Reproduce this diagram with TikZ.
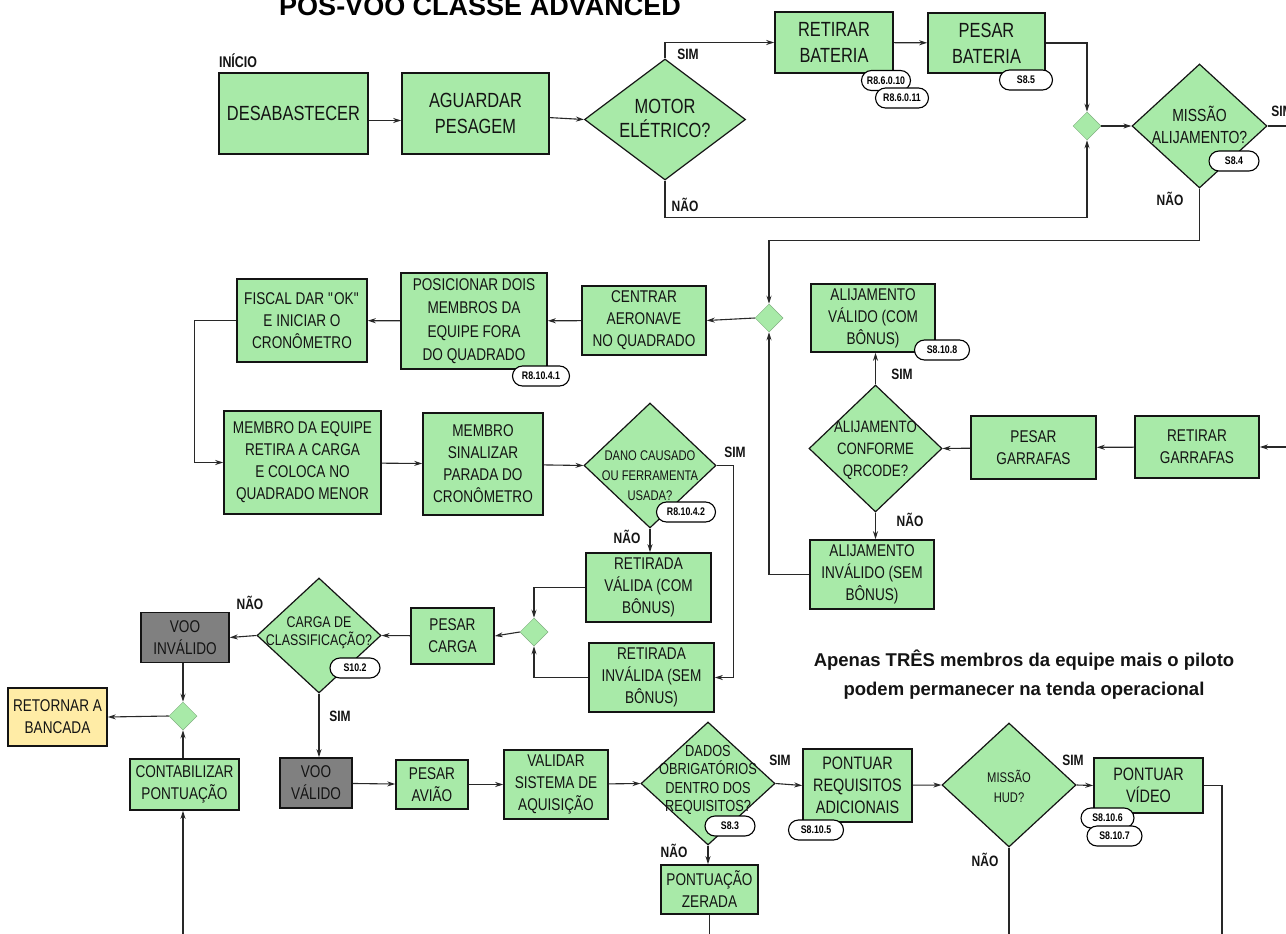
\documentclass[tikz,border=0pt]{standalone}
\usepackage{fontspec}
\setmainfont[FakeStretch=0.8]{Liberation Sans}
\newfontfamily\widefont{Liberation Sans}
\usetikzlibrary{shapes.geometric,shapes.misc,arrows.meta}
\definecolor{boxgreen}{RGB}{168,234,168}
\definecolor{boxgray}{RGB}{128,128,128}
\definecolor{boxyellow}{RGB}{255,236,166}
\definecolor{linec}{RGB}{40,40,40}
\definecolor{txt}{RGB}{20,20,20}
\tikzset{
  box/.style={draw=txt, fill=boxgreen, line width=1.6pt, align=center, inner sep=0pt, text=txt, font=\fontsize{17}{22}\selectfont},
  bigbox/.style={box, font=\fontsize{20.5}{26}\selectfont},
  graybox/.style={box, fill=boxgray},
  yellowbox/.style={box, fill=boxyellow},
  dia/.style={diamond, draw=txt, fill=boxgreen, line width=1.2pt, inner sep=0pt},
  dtxt/.style={align=center, inner sep=0pt, text=txt, font=\fontsize{14}{20}\selectfont},
  merge/.style={diamond, fill=boxgreen, draw=boxgreen!75!black, line width=0.5pt, minimum width=28pt, minimum height=28pt, inner sep=0pt},
  tag/.style={rounded rectangle, draw=black, fill=white, line width=1.1pt, inner sep=0pt, minimum height=20pt, minimum width=53pt, font=\bfseries\fontsize{11}{11}\selectfont},
  lbl/.style={inner sep=0pt, text=txt, font=\bfseries\fontsize{15}{15}\selectfont},
  conn/.style={draw=linec, line width=1.1pt, -{Stealth[length=8pt,width=5pt]}},
  plain/.style={draw=linec, line width=1.1pt}
}
\begin{document}
\begin{tikzpicture}[x=1pt,y=-1pt]
\useasboundingbox[fill=white] (0,0) rectangle (1286,934);

% title and note
\node[anchor=base, inner sep=0pt, font=\widefont\bfseries\fontsize{27}{27}\selectfont] (title) at (480,16) {PÓS-VOO CLASSE ADVANCED};
\node[align=center, inner sep=0pt, text=txt, font=\widefont\bfseries\fontsize{18.5}{29}\selectfont] (note) at (1024,675) {Apenas TRÊS membros da equipe mais o piloto\\podem permanecer na tenda operacional};

% row 1
\node[lbl, font=\bfseries\fontsize{15.5}{15.5}\selectfont] (inicio) at (238,61) {INÍCIO};
\node[bigbox, line width=2.2pt, minimum width=149pt, minimum height=81pt] (desab) at (293.5,113.5) {DESABASTECER};
\node[bigbox, minimum width=147pt, minimum height=81pt] (aguard) at (475.5,113.5) {AGUARDAR\\PESAGEM};
\node[dia, minimum width=161pt, minimum height=121pt] (motor) at (665,119.5) {};
\node[dtxt, font=\fontsize{20.5}{24}\selectfont] (motort) at (665,118) {MOTOR\\ELÉTRICO?};
\node[bigbox, minimum width=118pt, minimum height=61pt] (retbat) at (834,42.5) {RETIRAR\\BATERIA};
\node[bigbox, minimum width=117pt, minimum height=60pt] (pesbat) at (986.5,43) {PESAR\\BATERIA};
\node[tag, minimum width=49pt] (t1) at (886,80.5) {R8.6.0.10};
\node[tag] (t2) at (902,98) {R8.6.0.11};
\node[tag] (t3) at (1026,80) {S8.5};
\node[merge] (m1) at (1087,126) {};
\node[dia, minimum width=135pt, minimum height=124pt] (missao) at (1199.5,126) {};
\node[dtxt, font=\fontsize{17.5}{22}\selectfont] (missaot) at (1199.5,125) {MISSÃO\\ALIJAMENTO?};
\node[tag, minimum width=50pt] (t4) at (1234,161) {S8.4};
\coordinate (edge1) at (1290,126);

% row 2
\node[merge] (m2) at (769,318) {};
\node[box, minimum width=124pt, minimum height=69pt] (centrar) at (644,320.5) {CENTRAR\\AERONAVE\\NO QUADRADO};
\node[box, minimum width=146pt, minimum height=96pt, font=\fontsize{17}{23.5}\selectfont] (posic) at (474,321) {POSICIONAR DOIS\\MEMBROS DA\\EQUIPE FORA\\DO QUADRADO};
\node[tag, minimum width=57pt] (t5) at (541,376) {R8.10.4.1};
\node[box, minimum width=130pt, minimum height=83pt] (fiscal) at (302,320.5) {FISCAL DAR \textquotedbl OK\textquotedbl\\E INICIAR O\\CRONÔMETRO};

% row 3
\node[box, minimum width=157pt, minimum height=103pt] (membro) at (302.5,462.5) {MEMBRO DA EQUIPE\\RETIRA A CARGA\\E COLOCA NO\\QUADRADO MENOR};
\node[box, minimum width=120pt, minimum height=102pt] (sinal) at (483,464) {MEMBRO\\SINALIZAR\\PARADA DO\\CRONÔMETRO};
\node[dia, minimum width=132pt, minimum height=125pt] (dano) at (650,465.5) {};
\node[dtxt] (danot) at (650,476) {DANO CAUSADO\\OU FERRAMENTA\\USADA?};
\node[tag, minimum width=59pt] (t6) at (686,512) {R8.10.4.2};
\node[box, minimum width=125pt, minimum height=69pt] (retval) at (648.5,587.5) {RETIRADA\\VÁLIDA (COM\\BÔNUS)};
\node[box, minimum width=125pt, minimum height=69pt] (retinv) at (651.5,677.5) {RETIRADA\\INVÁLIDA (SEM\\BÔNUS)};
\node[merge] (m3) at (534,632) {};
\node[box, minimum width=83pt, minimum height=56pt] (pcarga) at (452.5,636) {PESAR\\CARGA};
\node[dia, minimum width=124pt, minimum height=115pt] (carga) at (319,635.5) {};
\node[dtxt, font=\fontsize{15.5}{18}\selectfont] (cargat) at (319,633) {CARGA DE\\CLASSIFICAÇÃO?};
\node[tag, minimum width=50pt] (t7) at (355,668) {S10.2};
\node[graybox, minimum width=88pt, minimum height=50pt] (vooinv) at (185,637.5) {VOO\\INVÁLIDO};
\node[merge] (m4) at (183,716) {};
\node[yellowbox, minimum width=99pt, minimum height=58pt] (retornar) at (57.5,717) {RETORNAR A\\BANCADA};
\node[box, minimum width=109pt, minimum height=51pt] (contab) at (184.5,784.5) {CONTABILIZAR\\PONTUAÇÃO};
\coordinate (bot1) at (183,940);

% row 4
\node[graybox, minimum width=72pt, minimum height=50pt] (vooval) at (316,783) {VOO\\VÁLIDO};
\node[box, minimum width=72pt, minimum height=49pt] (pesaviao) at (432,784.5) {PESAR\\AVIÃO};
\node[box, minimum width=104pt, minimum height=69pt] (validar) at (556,784.5) {VALIDAR\\SISTEMA DE\\AQUISIÇÃO};
\node[dia, minimum width=134pt, minimum height=123pt] (dados) at (708,783.5) {};
\node[dtxt, font=\fontsize{16}{18.6}\selectfont] (dadost) at (708,780) {DADOS\\OBRIGATÓRIOS\\DENTRO DOS\\REQUISITOS?};
\node[tag, minimum width=50pt] (t8) at (730,826) {S8.3};
\node[box, minimum width=97pt, minimum height=49pt] (zerada) at (709.5,889.5) {PONTUAÇÃO\\ZERADA};
\node[box, minimum width=109pt, minimum height=73pt, font=\fontsize{18}{22}\selectfont] (pontreq) at (857.5,785.5) {PONTUAR\\REQUISITOS\\ADICIONAIS};
\node[tag, minimum width=55pt] (t9) at (816,830) {S8.10.5};
\node[dia, minimum width=134pt, minimum height=124pt] (hud) at (1009,785) {};
\node[dtxt] (hudt) at (1009,786.5) {MISSÃO\\HUD?};
\node[box, minimum width=109pt, minimum height=55pt, font=\fontsize{18}{22}\selectfont] (pontvid) at (1148.5,785.5) {PONTUAR\\VÍDEO};
\node[tag] (t10) at (1107.5,818) {S8.10.6};
\node[tag, minimum width=55pt] (t11) at (1114.5,836) {S8.10.7};
\coordinate (bot2) at (709.5,940);
\coordinate (bot3) at (1009,940);
\coordinate (bot4) at (1222,940);

% right block
\node[box, minimum width=124pt, minimum height=68pt] (alijval) at (873,318) {ALIJAMENTO\\VÁLIDO (COM\\BÔNUS)};
\node[tag, minimum width=55pt] (t12) at (942,350) {S8.10.8};
\node[dia, minimum width=133pt, minimum height=127pt] (alijconf) at (875.5,448.5) {};
\node[dtxt, font=\fontsize{16.5}{22}\selectfont] (alijconft) at (875.5,450) {ALIJAMENTO\\CONFORME\\QRCODE?};
\node[box, minimum width=124pt, minimum height=69pt] (alijinv) at (872,574.5) {ALIJAMENTO\\INVÁLIDO (SEM\\BÔNUS)};
\node[box, minimum width=125pt, minimum height=63pt] (pesgar) at (1033.5,447.5) {PESAR\\GARRAFAS};
\node[box, minimum width=124pt, minimum height=62pt] (retgar) at (1197,447) {RETIRAR\\GARRAFAS};
\coordinate (edge2) at (1290,447);

% yes / no labels
\node[lbl] (s1) at (688,54) {SIM};
\node[lbl] (n1) at (685,205) {NÃO};
\node[lbl] (s2) at (1282,111) {SIM};
\node[lbl] (n2) at (1170,199) {NÃO};
\node[lbl] (s3) at (735,452) {SIM};
\node[lbl] (n3) at (627,537) {NÃO};
\node[lbl] (n4) at (250,603) {NÃO};
\node[lbl] (s4) at (340,716) {SIM};
\node[lbl] (s5) at (902,374) {SIM};
\node[lbl] (n5) at (910,520) {NÃO};
\node[lbl] (s6) at (780,760) {SIM};
\node[lbl] (n6) at (674,851) {NÃO};
\node[lbl] (s7) at (1073,760) {SIM};
\node[lbl] (n7) at (985,860) {NÃO};

% connectors
\draw[conn] ([yshift=-7pt]desab.east) -- ([yshift=-7pt]desab.east -| aguard.west);
\draw[conn] (aguard) -- (motor.west);
\draw[conn] (motor.north) |- (retbat.west);
\draw[conn] (motor.south) -- ++(0,37) -| (m1.south);
\draw[conn] (retbat) -- (pesbat);
\draw[conn] (pesbat.east) -| (m1.north);
\draw[conn] (m1.east) -- (missao.west);
\draw[plain] (missao.east) -- (edge1);
\draw[conn] (missao.south) -- ++(0,52) -| (m2.north);
\draw[conn] (m2.west) -- (centrar.east);
\draw[conn] (centrar) -- (posic);
\draw[conn] (posic) -- (fiscal);
\draw[conn] (fiscal.west) -- ++(-42,0) |- (membro.west);
\draw[conn] (membro) -- (sinal);
\draw[conn] (sinal) -- (dano.west);
\draw[conn] (dano.south) -- (dano.south|-retval.north);
\draw[conn] (dano.east) -- ++(17,0) |- (retinv.east);
\draw[conn] (retval.west) -| (m3.north);
\draw[conn] (retinv.west) -| (m3.south);
\draw[conn] (m3.west) -- (pcarga.east);
\draw[conn] (pcarga) -- (carga.east);
\draw[conn] (carga.west) -- (vooinv.east);
\draw[conn] (vooinv.south-|m4) -- (m4.north);
\draw[conn] (m4.west) -- (retornar.east);
\draw[conn] (contab.north-|m4) -- (m4.south);
\draw[conn] (bot1) -- (contab.south-|bot1);
\draw[conn] (carga.south) -- (carga.south|-vooval.north);
\draw[conn] (vooval) -- (pesaviao);
\draw[conn] (pesaviao) -- (validar);
\draw[conn] (validar) -- (dados.west);
\draw[conn] (dados.east) -- (pontreq.west);
\draw[conn] (dados.south) -- (dados.south|-zerada.north);
\draw[plain] (zerada.south) -- (bot2);
\draw[conn] (pontreq) -- (hud.west);
\draw[conn] (hud.east) -- (pontvid.west);
\draw[plain] (hud.south) -- (bot3);
\draw[plain] (pontvid.east) -| (bot4);
\draw[conn] (alijconf.north) -- (alijval.south-|alijconf);
\draw[conn] (alijconf.south) -- (alijinv.north-|alijconf);
\draw[conn] (alijinv.west) -| (m2.south);
\draw[conn] (pesgar) -- (alijconf.east);
\draw[conn] (retgar) -- (pesgar);
\draw[conn] (edge2) -- (retgar.east);
\end{tikzpicture}
\end{document}
